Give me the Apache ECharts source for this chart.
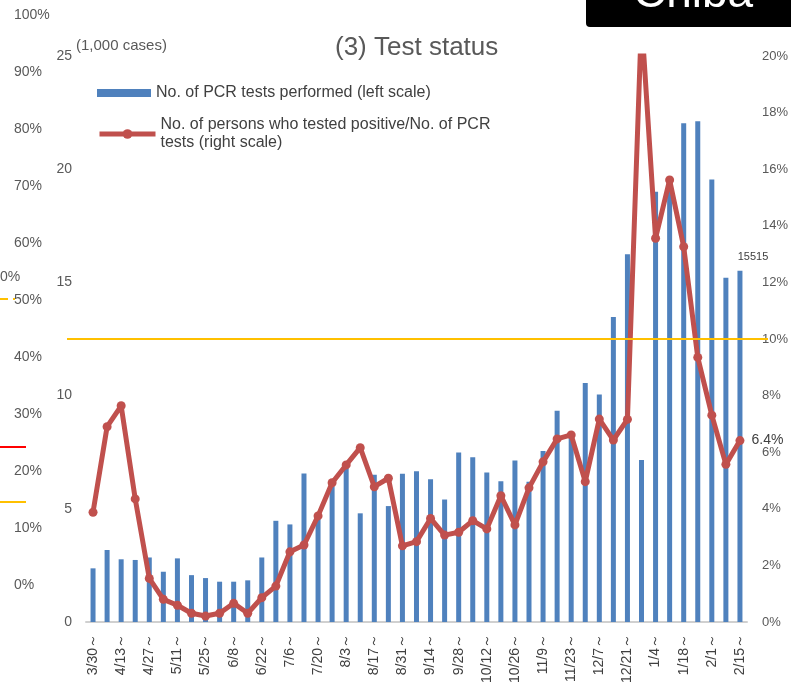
<!DOCTYPE html>
<html lang="en">
<head>
    <meta charset="UTF-8">
    <title>Test status</title>
    <script src="https://cdn.jsdelivr.net/npm/echarts@6/dist/echarts.min.js"></script>
    <style>html, body { margin: 0; padding: 0; background: #fff; }</style>
</head>
<body>
    <div id="chart_div" style="width: 791px; height: 693px;"></div>
</body>
    <script type="text/javascript">

       // weeks (start day), shown as "m/d～"
       var weeks = ['3/30','4/6','4/13','4/20','4/27','5/4','5/11','5/18','5/25','6/1',
                    '6/8','6/15','6/22','6/29','7/6','7/13','7/20','7/27','8/3','8/10',
                    '8/17','8/24','8/31','9/7','9/14','9/21','9/28','10/5','10/12','10/19',
                    '10/26','11/2','11/9','11/16','11/23','11/30','12/7','12/14','12/21','12/28',
                    '1/4','1/11','1/18','1/25','2/1','2/8','2/15'];
       var categories = weeks.map(function (w) { return w + '～'; });

       // PCR tests performed (1,000 cases), left scale
       var tests = [2.37, 3.18, 2.77, 2.74, 2.85, 2.22, 2.81, 2.07, 1.94, 1.78,
                    1.78, 1.84, 2.85, 4.47, 4.31, 6.56, 4.6, 6.0, 6.8, 4.8,
                    6.5, 5.12, 6.55, 6.66, 6.31, 5.41, 7.49, 7.28, 6.6, 6.22,
                    7.13, 6.19, 7.55, 9.33, 8.2, 10.56, 10.05, 13.47, 16.24, 7.15,
                    19.0, 19.2, 22.03, 22.12, 19.54, 15.2, 15.515];

       // positive / tests (%), right scale
       var positiveRate = [3.88, 6.90, 7.64, 4.35, 1.54, 0.80, 0.59, 0.31, 0.21, 0.31,
                           0.66, 0.31, 0.86, 1.27, 2.48, 2.72, 3.75, 4.92, 5.55, 6.16,
                           4.78, 5.08, 2.69, 2.84, 3.66, 3.07, 3.17, 3.58, 3.29, 4.46,
                           3.43, 4.74, 5.66, 6.47, 6.61, 4.96, 7.17, 6.43, 7.16, 21.3,
                           13.56, 15.62, 13.26, 9.35, 7.31, 5.57, 6.41];

       var leftTicks = {min: 0, max: 25, interval: 5};
       var rightTicks = {min: 0, max: 20, interval: 2};
       var thresholdRate = 10;

       // leftover scale of a neighbouring chart at the far left
       var sideTicks = {min: 0, max: 100, interval: 10};
       var sideLines = [14.6, 24.3, 50.2];

       var barName = 'No. of PCR tests performed (left scale)';
       var lineName = 'No. of persons who tested positive/No. of PCR\ntests (right scale)';

       var font = '"Liberation Sans", Arial, sans-serif';
       var gray = '#595959';
       var dark = '#404040';
       var red = '#c0504d';
       var last = tests.length - 1;

       var barData = tests.map(function (v, i) {
           if (i !== last) return v;
           return {value: v, label: {show: true, position: 'top', offset: [13, -3],
                   fontSize: 11, color: dark,
                   formatter: function (p) { return String(Math.round(p.value * 1000)); }}};
       });
       var lineData = positiveRate.map(function (v, i) {
           if (i !== last) return v;
           return {value: v, label: {show: true, position: 'right', distance: 7,
                   fontSize: 14, color: dark,
                   formatter: function (p) { return p.value.toFixed(1) + '%'; }}};
       });

       var legendText = {fontSize: 16, color: dark, lineHeight: 18, fontFamily: font};

       var chart = echarts.init(document.getElementById('chart_div'));
       var options = {
            animation: false,
            backgroundColor: '#fff',
            textStyle: {fontFamily: font},
            title: [
                {text: '(3) Test status', left: 335, top: 35, padding: 0,
                 textStyle: {fontSize: 26, fontWeight: 'normal', color: gray, fontFamily: font}},
                {text: '(1,000 cases)', left: 76, top: 38, padding: 0,
                 textStyle: {fontSize: 15, fontWeight: 'normal', color: gray, fontFamily: font}}
            ],
            legend: [
                {orient: 'vertical', left: 97, top: 84, padding: 0,
                 itemWidth: 54, itemHeight: 8,
                 textStyle: legendText,
                 data: [{name: barName, icon: 'rect'}]},
                {orient: 'vertical', left: 97, top: 116, padding: 0,
                 itemWidth: 56, itemHeight: 12,
                 lineStyle: {width: 5},
                 textStyle: legendText,
                 data: [{name: lineName}]}
            ],
            grid: [
                {left: 86, right: 40.6, top: 56, bottom: 71},
                {left: 0, width: 26, top: 15, bottom: 108}
            ],
            xAxis: [
                {type: 'category', data: categories, gridIndex: 0,
                 axisTick: {show: false},
                 axisLine: {lineStyle: {color: '#d0d0d0', width: 2}},
                 axisLabel: {interval: 1, rotate: 90, margin: 12, fontSize: 14, color: dark}},
                {type: 'value', gridIndex: 1, show: false, min: 0, max: 1}
            ],
            yAxis: [
                {type: 'value', gridIndex: 0, min: leftTicks.min, max: leftTicks.max, interval: leftTicks.interval,
                 splitLine: {show: false}, axisLine: {show: false}, axisTick: {show: false},
                 axisLabel: {margin: 14, fontSize: 14, color: gray}},
                {type: 'value', gridIndex: 0, position: 'right',
                 min: rightTicks.min, max: rightTicks.max, interval: rightTicks.interval,
                 splitLine: {show: false}, axisLine: {show: false}, axisTick: {show: false},
                 axisLabel: {margin: 15, fontSize: 13, color: gray, formatter: '{value}%'}},
                {type: 'value', gridIndex: 1, min: sideTicks.min, max: sideTicks.max, interval: sideTicks.interval,
                 splitLine: {show: false}, axisLine: {show: false}, axisTick: {show: false},
                 axisLabel: {margin: -14, align: 'left', fontSize: 14, color: gray, formatter: '{value}%'}}
            ],
            series: [
                {
                    name: barName,
                    type: 'bar',
                    xAxisIndex: 0,
                    yAxisIndex: 0,
                    barWidth: 5,
                    itemStyle: {color: '#4f81bd'},
                    data: barData
                },
                {
                    name: lineName,
                    type: 'line',
                    xAxisIndex: 0,
                    yAxisIndex: 1,
                    z: 4,
                    symbol: 'circle',
                    symbolSize: 9,
                    itemStyle: {color: red},
                    lineStyle: {color: red, width: 5},
                    data: lineData
                },
                {
                    // 10% reference line
                    type: 'line',
                    xAxisIndex: 0,
                    yAxisIndex: 1,
                    clip: false,
                    data: [],
                    markLine: {
                        silent: true,
                        symbol: ['none', 'none'],
                        label: {show: false},
                        lineStyle: {color: '#ffc000', width: 2, type: 'solid'},
                        data: [[{yAxis: thresholdRate, x: 67}, {yAxis: thresholdRate, x: 768}]]
                    }
                },
                {
                    type: 'line',
                    xAxisIndex: 1,
                    yAxisIndex: 2,
                    clip: false,
                    data: [],
                    markLine: {
                        silent: true,
                        symbol: ['none', 'none'],
                        label: {show: false},
                        data: [
                            {yAxis: sideLines[0], lineStyle: {color: '#ffc000', width: 2, type: 'solid'}},
                            {yAxis: sideLines[1], lineStyle: {color: '#ff0000', width: 2, type: 'solid'}},
                            [{yAxis: sideLines[2], x: 0, lineStyle: {color: '#ffc000', width: 2, type: [8, 5]}},
                             {yAxis: sideLines[2], x: 15}]
                        ]
                    }
                }
            ],
            graphic: [
                {type: 'text', left: 0, top: 270,
                 style: {text: '0%', fontSize: 14, fill: gray, fontFamily: font}},
                {type: 'rect', shape: {x: 586, y: -6, width: 210, height: 33, r: 4},
                 style: {fill: '#000'}},
                {type: 'text', x: 633, y: -6,
                 style: {text: 'Chiba', fontSize: 46, fill: '#fff', fontFamily: font,
                         verticalAlign: 'middle'}}
            ]
       };
       chart.setOption(options);

    </script>
</html>
